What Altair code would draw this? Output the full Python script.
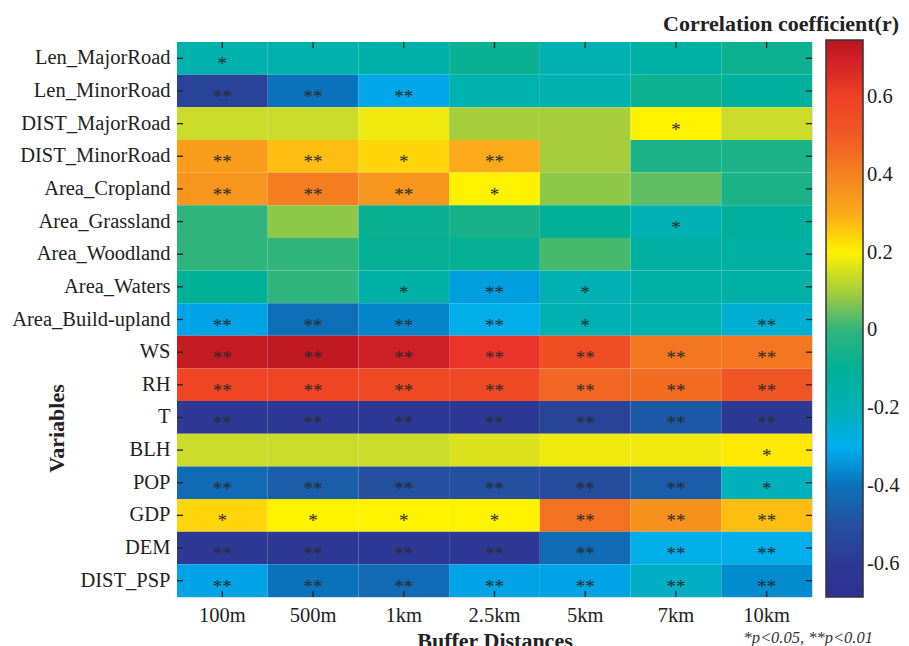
import altair as alt
import pandas as pd

variables = ["Len_MajorRoad", "Len_MinorRoad", "DIST_MajorRoad", "DIST_MinorRoad",
             "Area_Cropland", "Area_Grassland", "Area_Woodland", "Area_Waters",
             "Area_Build-upland", "WS", "RH", "T", "BLH", "POP", "GDP", "DEM", "DIST_PSP"]
distances = ["100m", "500m", "1km", "2.5km", "5km", "7km", "10km"]

r_len_major = [-0.18, -0.18, -0.17, -0.08, -0.19, -0.16, -0.07]
r_len_minor = [-0.56, -0.40, -0.31, -0.18, -0.18, -0.07, -0.12]
r_dist_major = [0.14, 0.14, 0.18, 0.10, 0.10, 0.20, 0.14]
r_dist_minor = [0.33, 0.26, 0.23, 0.30, 0.10, -0.04, -0.04]
r_cropland = [0.35, 0.41, 0.35, 0.20, 0.08, 0.04, -0.04]
r_grassland = [0.00, 0.08, -0.08, -0.05, -0.10, -0.20, -0.12]
r_woodland = [0.00, 0.00, -0.09, -0.09, 0.02, -0.14, -0.14]
r_waters = [-0.10, 0.00, -0.16, -0.33, -0.20, -0.16, -0.16]
r_buildup = [-0.32, -0.41, -0.37, -0.29, -0.20, -0.18, -0.25]
r_ws = [0.72, 0.73, 0.70, 0.64, 0.55, 0.43, 0.43]
r_rh = [0.58, 0.58, 0.57, 0.56, 0.47, 0.45, 0.52]
r_t = [-0.61, -0.61, -0.61, -0.61, -0.56, -0.47, -0.60]
r_blh = [0.14, 0.14, 0.14, 0.16, 0.18, 0.18, 0.21]
r_pop = [-0.42, -0.45, -0.50, -0.50, -0.52, -0.45, -0.21]
r_gdp = [0.23, 0.20, 0.20, 0.20, 0.44, 0.36, 0.26]
r_dem = [-0.61, -0.61, -0.61, -0.61, -0.42, -0.29, -0.29]
r_dist_psp = [-0.32, -0.40, -0.42, -0.32, -0.32, -0.23, -0.36]

s_len_major = ["*", "", "", "", "", "", ""]
s_len_minor = ["**", "**", "**", "", "", "", ""]
s_dist_major = ["", "", "", "", "", "*", ""]
s_dist_minor = ["**", "**", "*", "**", "", "", ""]
s_cropland = ["**", "**", "**", "*", "", "", ""]
s_grassland = ["", "", "", "", "", "*", ""]
s_woodland = ["", "", "", "", "", "", ""]
s_waters = ["", "", "*", "**", "*", "", ""]
s_buildup = ["**", "**", "**", "**", "*", "", "**"]
s_ws = ["**", "**", "**", "**", "**", "**", "**"]
s_rh = ["**", "**", "**", "**", "**", "**", "**"]
s_t = ["**", "**", "**", "**", "**", "**", "**"]
s_blh = ["", "", "", "", "", "", "*"]
s_pop = ["**", "**", "**", "**", "**", "**", "*"]
s_gdp = ["*", "*", "*", "*", "**", "**", "**"]
s_dem = ["**", "**", "**", "**", "**", "**", "**"]
s_dist_psp = ["**", "**", "**", "**", "**", "**", "**"]

r_rows = [r_len_major, r_len_minor, r_dist_major, r_dist_minor, r_cropland, r_grassland,
          r_woodland, r_waters, r_buildup, r_ws, r_rh, r_t, r_blh, r_pop, r_gdp, r_dem, r_dist_psp]
s_rows = [s_len_major, s_len_minor, s_dist_major, s_dist_minor, s_cropland, s_grassland,
          s_woodland, s_waters, s_buildup, s_ws, s_rh, s_t, s_blh, s_pop, s_gdp, s_dem, s_dist_psp]

color_stops = [-0.685, -0.6, -0.5, -0.45, -0.4, -0.35, -0.3, -0.25, -0.2, -0.1, 0.0, 0.05,
               0.1, 0.15, 0.2, 0.25, 0.3, 0.35, 0.4, 0.5, 0.6, 0.65, 0.7, 0.7465]
color_range = ["#2e3192", "#2d3a94", "#24509f", "#1a5ea9", "#0a72bb", "#0092d5", "#00aeef",
               "#00aed2", "#00b1b4", "#00b097", "#2fb47d", "#6dbf5a", "#a6cd3c", "#d4de25",
               "#fff200", "#fec30f", "#fbaa19", "#f7951d", "#f5821f", "#f15a25", "#ee4025",
               "#e9302a", "#cf1f26", "#b8151e"]
legend_values = [-0.6, -0.4, -0.2, 0, 0.2, 0.4, 0.6]

records = []
for v, rv, sv in zip(variables, r_rows, s_rows):
    for d, r, s in zip(distances, rv, sv):
        records.append({"Variable": v, "Distance": d, "r": r, "sig": s})
df = pd.DataFrame(records)
var_df = pd.DataFrame({"Variable": variables})
dist_df = pd.DataFrame({"Distance": distances})

FONT = "Liberation Serif"

x_enc = alt.X("Distance:N", sort=distances,
              scale=alt.Scale(type="band", paddingInner=0, paddingOuter=0),
              axis=alt.Axis(title="Buffer Distances", labelAngle=0, ticks=False, domain=False,
                            labelPadding=8, labelFont=FONT, labelFontSize=20.5, labelColor="#222",
                            titleFont=FONT, titleFontSize=22, titleFontWeight="bold",
                            titleColor="#222", titleBaseline="alphabetic", titleY=50))
y_enc = alt.Y("Variable:N", sort=variables,
              scale=alt.Scale(type="band", paddingInner=0, paddingOuter=0),
              axis=alt.Axis(title="Variables", ticks=False, domain=False, labelPadding=7,
                            labelFont=FONT, labelFontSize=20.5, labelColor="#222",
                            titleFont=FONT, titleFontSize=22, titleFontWeight="bold",
                            titleColor="#222", titleAngle=270, titleAlign="center",
                            titleBaseline="alphabetic", titleX=-114, titleY=386))

heat = alt.Chart(df).mark_rect().encode(
    x=x_enc,
    y=y_enc,
    color=alt.Color("r:Q",
                    scale=alt.Scale(domain=color_stops, range=color_range, interpolate="rgb"),
                    legend=alt.Legend(orient="none", legendX=649, legendY=-2,
                                      direction="vertical", title=None, padding=0,
                                      gradientLength=557, gradientThickness=37,
                                      gradientStrokeColor="#333", gradientStrokeWidth=1.5,
                                      values=legend_values, labelExpr="'' + datum.value",
                                      labelFont=FONT, labelFontSize=20.5, labelColor="#222",
                                      labelOffset=4)),
)

stars = alt.Chart(df).transform_filter("datum.sig != ''").mark_text(
    font=FONT, fontSize=19, color="#2a2a2a", baseline="middle", dy=6
).encode(
    x=alt.X("Distance:N", sort=distances),
    y=alt.Y("Variable:N", sort=variables),
    text="sig:N",
)

# inward box ticks (MATLAB style)
tick_style = dict(color="#222", strokeWidth=1.3)
ticks_left = alt.Chart(var_df).mark_rule(**tick_style).encode(
    y=alt.Y("Variable:N", sort=variables), x=alt.value(0), x2=alt.value(6))
ticks_right = alt.Chart(var_df).mark_rule(**tick_style).encode(
    y=alt.Y("Variable:N", sort=variables), x=alt.value(629), x2=alt.value(635))
ticks_top = alt.Chart(dist_df).mark_rule(**tick_style).encode(
    x=alt.X("Distance:N", sort=distances), y=alt.value(0), y2=alt.value(6))
ticks_bottom = alt.Chart(dist_df).mark_rule(**tick_style).encode(
    x=alt.X("Distance:N", sort=distances), y=alt.value(549), y2=alt.value(555))

title_df = pd.DataFrame({"label": ["Correlation coefficient(r)"]})
title_txt = alt.Chart(title_df).mark_text(
    font=FONT, fontSize=22, fontWeight="bold", color="#222", align="right", baseline="alphabetic"
).encode(x=alt.value(722), y=alt.value(-11), text="label:N")

note_df = pd.DataFrame({"label": ["*p<0.05, **p<0.01"]})
note_txt = alt.Chart(note_df).mark_text(
    font=FONT, fontSize=16.5, fontStyle="italic", color="#333", align="right", baseline="alphabetic"
).encode(x=alt.value(696), y=alt.value(601), text="label:N")

chart = alt.layer(heat, stars, ticks_left, ticks_right, ticks_top, ticks_bottom,
                  title_txt, note_txt).properties(
    width=635, height=555,
    padding={"left": 169, "top": 34, "right": 89, "bottom": 49},
    autosize=alt.AutoSizeParams(type="none"),
).configure_view(stroke="#222", strokeWidth=1.5).configure(background="white")

chart.save("out.html", embed_options={"renderer": "svg", "actions": False})
